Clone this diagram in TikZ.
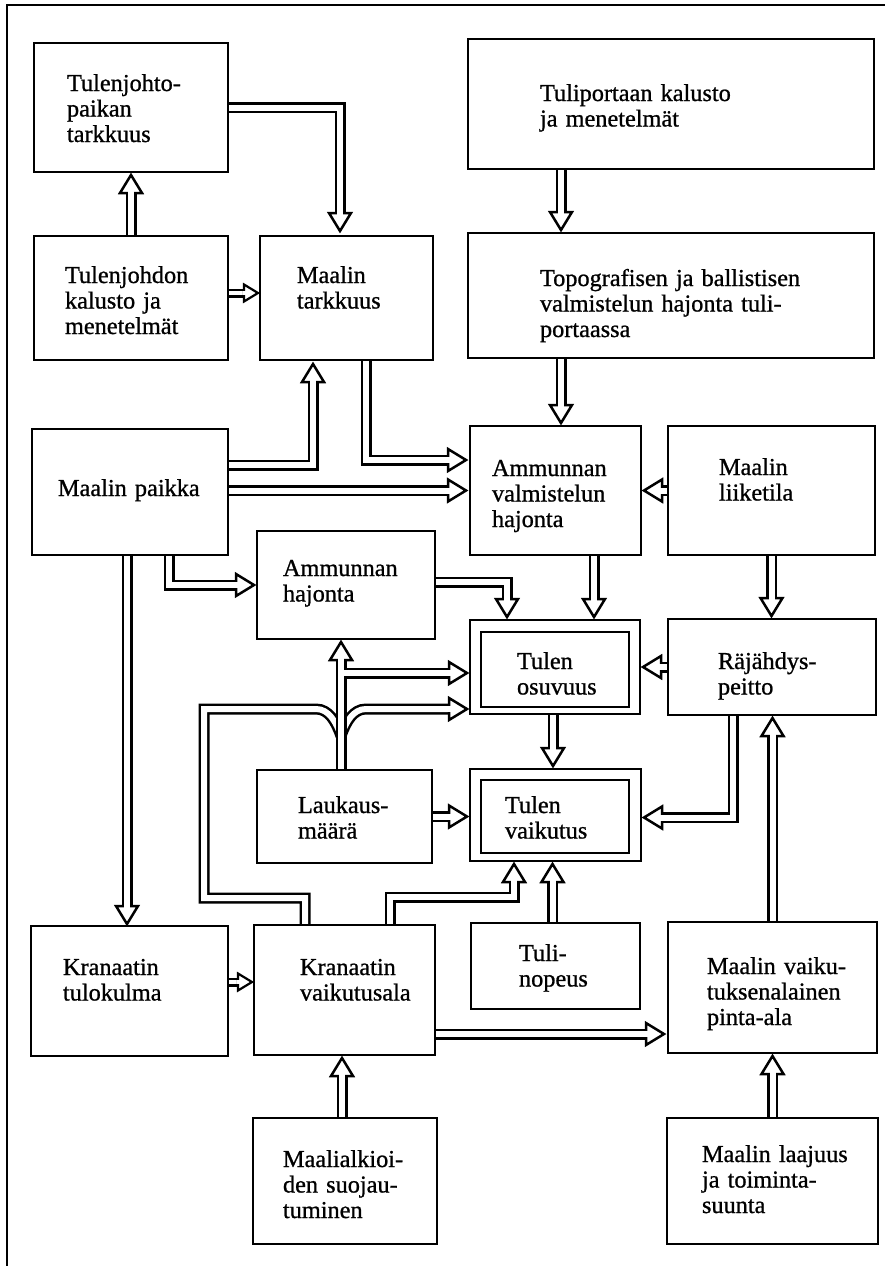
\documentclass[tikz,border=0pt]{standalone}
\usepackage{fontspec}
\setmainfont{Liberation Serif}[FakeBold=0.9]
\usetikzlibrary{calc}
\tikzset{
  box/.style={draw, line width=2.5, rectangle, inner sep=0, outer sep=0},
  boxline/.style={draw, line width=2.6},
  txt/.style={anchor=base west, inner sep=0, outer sep=0, text width=320, align=left, font=\fontsize{24.3}{25.5}\selectfont},
  dblbase/.style={draw, line width=2.5, double=white, double distance=6, line join=miter, miter limit=1.6},
  dbl/.style={dblbase, shorten >=15},
  dbls/.style={draw, line width=2.2, double=white, double distance=4.6, line join=miter, shorten >=11},
  ahead/.pic={
    \draw[line width=2.5, fill=white, line join=miter] (0,0) -- (-18,-11) -- (-18,11) -- cycle;
    \fill[white] (-19.6,-3) rectangle (-14,3);
  },
  sahead/.pic={
    \draw[line width=2.2, fill=white, line join=miter] (0,0) -- (-14,-8.5) -- (-14,8.5) -- cycle;
    \fill[white] (-15.4,-2.3) rectangle (-10.5,2.3);
  },
}
\newcommand\mkbox[5]{\node[box, minimum width={#4-#2}, minimum height={#5-#3}] (#1) at ({(#2+#4)/2},{(#3+#5)/2}) {};}
\begin{document}
\begin{tikzpicture}[x=1pt,y=-1pt]
\useasboundingbox (0,0) rectangle (884,1266);
% frame
\draw[line width=2.8] (7,1270) -- (7,5) -- (890,5);
% boxes
\mkbox{tjp}{34}{43}{228}{172}
\mkbox{tjk}{34}{236}{228}{360}
\mkbox{mt}{260}{236}{433}{360}
\mkbox{tp}{468}{39}{874}{169}
\mkbox{topo}{468}{233}{874}{358}
\mkbox{mp}{32}{429}{228}{555}
\mkbox{av}{470}{426}{641}{555}
\mkbox{ml}{668}{426}{875}{555}
\mkbox{ah}{257}{531}{435}{639}
\mkbox{tos}{470}{620}{640}{714}
\mkbox{rp}{668}{619}{876}{715}
\mkbox{tvk}{470}{769}{641}{861}
\mkbox{lk}{257}{770}{432}{863}
\mkbox{ktk}{31}{926}{228}{1056}
\mkbox{kv}{254}{925}{435}{1055}
\mkbox{tn}{471}{923}{640}{1009}
\mkbox{mva}{668}{922}{877}{1053}
\mkbox{mas}{253}{1118}{437}{1244}
\mkbox{mlt}{667}{1118}{878}{1244}

% A: tjk -> tjp
\coordinate (aT) at ($(tjp.south)+(0,3)$);
\draw[dbl] (tjk.north) -- (aT); \pic[rotate=90] at (aT) {ahead};
% B: tjp -> mt
\coordinate (bT) at ($(mt.north)+(-6.5,-5)$);
\draw[dbl] (tjp.east) -| (bT); \pic[rotate=-90] at (bT) {ahead};
% C: tjk -> mt
\coordinate (cS) at ($(tjk.east)+(0,-5)$);
\coordinate (cT) at ($(cS -| mt.west)+(-2,0)$);
\draw[dbls] (cS) -- (cT); \pic at (cT) {sahead};
% D: mp -> mt
\coordinate (dS) at ($(mp.east)+(0,-27)$);
\coordinate (dT) at ($(mt.south)+(-33.5,4)$);
\draw[dbl] (dS) -| (dT); \pic[rotate=90] at (dT) {ahead};
% E: mt -> av
\coordinate (eS) at ($(mt.south)+(19.5,0)$);
\coordinate (eT) at ($(av.west)+(-4,-30.5)$);
\draw[dbl] (eS) |- (eT); \pic at (eT) {ahead};
% F: mp -> av
\coordinate (fT) at ($(av.west)+(-4,0)$);
\draw[dbl] (mp.east |- fT) -- (fT); \pic at (fT) {ahead};
% G: mp -> ah
\coordinate (gS) at ($(mp.south)+(39,0)$);
\coordinate (gT) at ($(ah.west)+(-3,0)$);
\draw[dbl] (gS) |- (gT); \pic at (gT) {ahead};
% H: mp -> ktk
\coordinate (hS) at ($(mp.south)+(-3,0)$);
\coordinate (hT) at ($(hS |- ktk.north)+(0,-2)$);
\draw[dbl] (hS) -- (hT); \pic[rotate=-90] at (hT) {ahead};
% Z: tp -> topo
\coordinate (zS) at ($(tp.south)+(-110,0)$);
\coordinate (zT) at ($(zS |- topo.north)+(0,-3)$);
\draw[dbl] (zS) -- (zT); \pic[rotate=-90] at (zT) {ahead};
% I: topo -> av
\coordinate (iS) at ($(topo.south)+(-110,0)$);
\coordinate (iT) at ($(iS |- av.north)+(0,-3)$);
\draw[dbl] (iS) -- (iT); \pic[rotate=-90] at (iT) {ahead};
% J: ml -> av
\coordinate (jT) at ($(av.east)+(3,0)$);
\draw[dbl] (ml.west) -- (jT); \pic[rotate=180] at (jT) {ahead};
% K: av -> tos
\coordinate (kS) at ($(av.south)+(38.5,0)$);
\coordinate (kT) at ($(kS |- tos.north)+(0,-3)$);
\draw[dbl] (kS) -- (kT); \pic[rotate=-90] at (kT) {ahead};
% L: ml -> rp
\coordinate (lT) at ($(ml.south |- rp.north)+(0,-3)$);
\draw[dbl] (ml.south) -- (lT); \pic[rotate=-90] at (lT) {ahead};
% M: ah -> tos
\coordinate (mS) at ($(ah.east)+(0,-3)$);
\coordinate (mT) at ($(tos.north)+(-48,-3)$);
\draw[dbl] (mS) -| (mT); \pic[rotate=-90] at (mT) {ahead};
% N: rp -> tos
\coordinate (nT) at ($(tos.east)+(3,0)$);
\draw[dbl] (rp.west) -- (nT); \pic[rotate=180] at (nT) {ahead};
% O: tos -> tvk
\coordinate (oS) at ($(tos.south)+(-2,0)$);
\coordinate (oT) at ($(oS |- tvk.north)+(0,-3)$);
\draw[dbl] (oS) -- (oT); \pic[rotate=-90] at (oT) {ahead};
% P: rp -> tvk
\coordinate (pS) at ($(rp.south)+(-39,0)$);
\coordinate (pT) at ($(tvk.east)+(3,2.5)$);
\draw[dbl] (pS) |- (pT); \pic[rotate=180] at (pT) {ahead};
% Q: mva -> rp
\coordinate (qT) at ($(mva.north |- rp.south)+(0,3)$);
\draw[dbl] (mva.north) -- (qT); \pic[rotate=90] at (qT) {ahead};
% R: lk -> tvk
\coordinate (rT) at ($(lk.east -| tvk.west)+(-3,0)$);
\draw[dbl] (lk.east) -- (rT); \pic at (rT) {ahead};
% kv -> tos (loop with crossing)
\coordinate (uS) at ($(kv.north)+(-39.5,0)$);
\coordinate (uB1) at (204,898);
\coordinate (uB2) at (204,709);
\coordinate (uT) at ($(tos.west)+(-3,42)$);
\draw[dbl] (uS) |- (uB1) -- (uB2) -- (316,709) .. controls (329,709) and (336,722) .. (341,736) .. controls (346,722) and (353,709) .. (366,709) -- (uT);
\pic at (uT) {ahead};
% S: lk -> ah, branch -> tos
\coordinate (sS) at ($(lk.north)+(-3.5,0)$);
\coordinate (sT1) at ($(sS |- ah.south)+(0,3)$);
\coordinate (sJ) at ($(sS |- tos.west)+(0,6)$);
\coordinate (sT2) at ($(sJ -| tos.west)+(-3,0)$);
\draw[dblbase] ($(sT1)+(0,15)$) -- (sS) (sJ) -- ($(sT2)+(-15,0)$);
\pic[rotate=90] at (sT1) {ahead};
\pic at (sT2) {ahead};
% T: kv -> tvk
\coordinate (tS) at ($(kv.north)+(45.5,0)$);
\coordinate (tT) at ($(tvk.south)+(-41.5,3)$);
\draw[dbl] (tS) |- ($(tT)+(0,33)$) -- (tT); \pic[rotate=90] at (tT) {ahead};
% U: tn -> tvk
\coordinate (uuT) at ($(tn.north |- tvk.south)+(-3,3)$);
\draw[dbl] (tn.north -| uuT) -- (uuT); \pic[rotate=90] at (uuT) {ahead};
% V: ktk -> kv
\coordinate (vS) at ($(ktk.east)+(0,-9)$);
\coordinate (vT) at ($(vS -| kv.west)+(-2,0)$);
\draw[dbls] (vS) -- (vT); \pic at (vT) {sahead};
% W: kv -> mva
\coordinate (wS) at ($(kv.east)+(0,44)$);
\coordinate (wT) at ($(wS -| mva.west)+(-4,0)$);
\draw[dbl] (wS) -- (wT); \pic at (wT) {ahead};
% X: mas -> kv
\coordinate (xS) at ($(mas.north)+(-3,0)$);
\coordinate (xT) at ($(xS |- kv.south)+(0,3)$);
\draw[dbl] (xS) -- (xT); \pic[rotate=90] at (xT) {ahead};
% Y: mlt -> mva
\coordinate (yT) at ($(mlt.north |- mva.south)+(0,3)$);
\draw[dbl] (mlt.north) -- (yT); \pic[rotate=90] at (yT) {ahead};

% redraw box borders on top of connector ends
\foreach \n in {tjp,tjk,mt,tp,topo,mp,av,ml,ah,tos,rp,tvk,lk,ktk,kv,tn,mva,mas,mlt}
  \draw[boxline] (\n.north west) rectangle (\n.south east);
\draw[boxline] ($(tos.north west)+(11,12)$) rectangle ($(tos.south east)+(-11,-7)$);
\draw[boxline] ($(tvk.north west)+(11,11)$) rectangle ($(tvk.south east)+(-12,-8)$);

% texts
\node[txt] (t1) at (67,91) {Tulenjohto-\\paikan\\tarkkuus};
\node[txt] (t2) at (65,283) {Tulenjohdon\\kalusto ja\\menetelmät};
\node[txt] (t3) at (297,283) {Maalin\\tarkkuus};
\node[txt] (t4) at (540,101) {Tuliportaan kalusto\\ja menetelmät};
\node[txt] (t5) at (540,286) {Topografisen ja ballistisen\\valmistelun hajonta tuli-\\portaassa};
\node[txt] (t6) at (58,496) {Maalin paikka};
\node[txt] (t7) at (492,476) {Ammunnan\\valmistelun\\hajonta};
\node[txt] (t8) at (719,475) {Maalin\\liiketila};
\node[txt] (t9) at (283,576) {Ammunnan\\hajonta};
\node[txt] (t10) at (517,669) {Tulen\\osuvuus};
\node[txt] (t11) at (718,669) {Räjähdys-\\peitto};
\node[txt] (t12) at (505,813) {Tulen\\vaikutus};
\node[txt] (t13) at (298,813) {Laukaus-\\määrä};
\node[txt] (t14) at (63,975) {Kranaatin\\tulokulma};
\node[txt] (t15) at (300,975) {Kranaatin\\vaikutusala};
\node[txt] (t16) at (519,961) {Tuli-\\nopeus};
\node[txt] (t17) at (707,974) {Maalin vaiku-\\tuksenalainen\\pinta-ala};
\node[txt] (t18) at (283,1167) {Maalialkioi-\\den suojau-\\tuminen};
\node[txt] (t19) at (702,1162) {Maalin laajuus\\ja toiminta-\\suunta};
\end{tikzpicture}
\end{document}
